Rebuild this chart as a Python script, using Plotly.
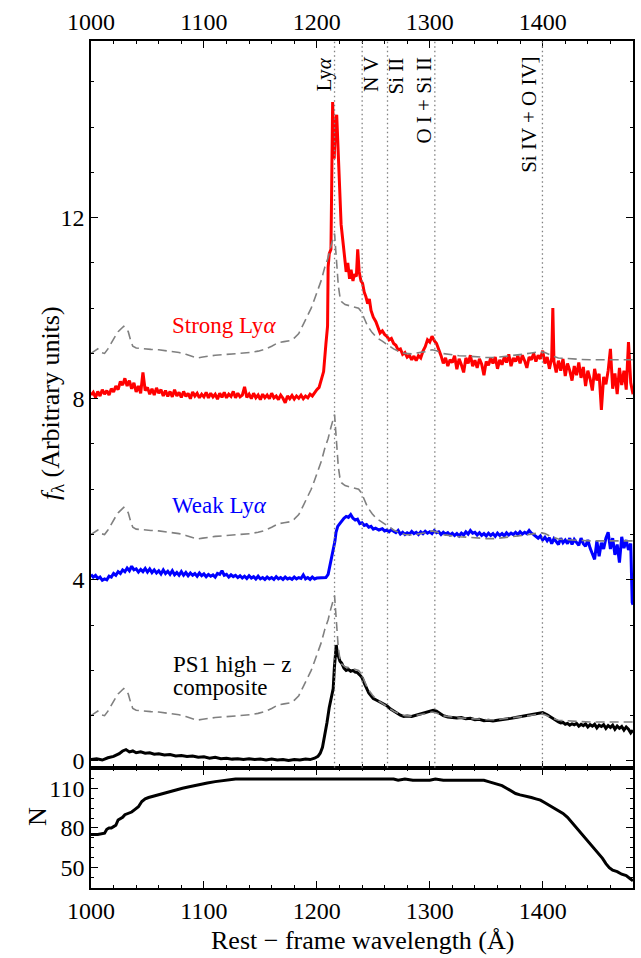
import plotly.graph_objects as go

# ---------------- data ----------------
# Strong Lyman-alpha stack (already offset by +8)
strong_wave = [1000, 1002, 1004, 1006, 1008, 1010, 1012, 1014, 1016, 1018, 1020, 1022, 1024, 1026, 1028, 1030,
               1032, 1034, 1036, 1038, 1040, 1042, 1044, 1046, 1048, 1050, 1052, 1054, 1056, 1058, 1060, 1062,
               1064, 1066, 1068, 1070, 1072, 1074, 1076, 1078, 1080, 1082, 1084, 1086, 1088, 1090, 1092, 1094,
               1096, 1098, 1100, 1102, 1104, 1106, 1108, 1110, 1112, 1114, 1116, 1118, 1120, 1122, 1124, 1126,
               1128, 1130, 1132, 1134, 1136, 1138, 1140, 1142, 1144, 1146, 1148, 1150, 1152, 1154, 1156, 1158,
               1160, 1162, 1164, 1166, 1168, 1170, 1172, 1174, 1176, 1178, 1180, 1182, 1184, 1186, 1188, 1190,
               1192, 1194, 1196, 1198, 1200, 1202, 1204, 1206, 1208, 1209.5, 1210, 1211, 1212.5, 1213.5, 1214,
               1215.4, 1216.5, 1217.6, 1218.6, 1219.9, 1221.5, 1223, 1224.4, 1226, 1227.4, 1229, 1230.3, 1232,
               1233.2, 1235, 1236.2, 1237.5, 1239.1, 1240.5, 1242, 1243.5, 1245, 1246.5, 1248, 1250, 1252.3,
               1254, 1256, 1258, 1260, 1262, 1264, 1266, 1268, 1270, 1272, 1274, 1276, 1278, 1280, 1282, 1284,
               1286, 1288, 1290, 1292, 1294, 1296, 1298, 1300, 1302, 1304, 1306, 1308, 1310, 1312, 1314, 1316,
               1318, 1320, 1322, 1324, 1326, 1328, 1330, 1332, 1334, 1336, 1338, 1340, 1342, 1344, 1346, 1348,
               1350, 1352, 1354, 1356, 1358, 1360, 1362, 1364, 1366, 1368, 1370, 1372, 1374, 1376, 1378, 1380,
               1382, 1384, 1386, 1388, 1390, 1392, 1394, 1396, 1398, 1400, 1402, 1404, 1406, 1408, 1409, 1410,
               1412, 1414, 1416, 1418, 1420, 1422, 1424, 1426, 1428, 1430, 1432, 1434, 1436, 1438, 1440, 1442,
               1444, 1446, 1448, 1450, 1452, 1454, 1456, 1458, 1460, 1462, 1464, 1466, 1468, 1470, 1472, 1474,
               1476, 1478, 1480]
strong_flux = [8.08, 8.14, 8.03, 8.16, 8.06, 8.20, 8.10, 8.18, 8.08, 8.22, 8.15, 8.28, 8.20, 8.38, 8.30, 8.45,
               8.28, 8.40, 8.22, 8.35, 8.15, 8.28, 8.12, 8.58, 8.18, 8.25, 8.10, 8.22, 8.08, 8.24, 8.12, 8.20,
               8.06, 8.18, 8.05, 8.16, 8.04, 8.20, 8.06, 8.14, 8.03, 8.16, 8.05, 8.12, 8.00, 8.15, 8.06, 8.12,
               8.02, 8.10, 8.04, 8.14, 8.02, 8.12, 8.04, 8.10, 7.99, 8.12, 8.03, 8.14, 8.02, 8.10, 8.05, 8.16,
               8.02, 8.12, 8.04, 8.08, 8.26, 8.03, 8.10, 8.00, 8.12, 8.02, 8.08, 7.98, 8.10, 8.02, 8.08, 8.00,
               8.12, 8.02, 8.06, 7.98, 8.08, 8.01, 7.91, 8.06, 8.00, 8.07, 7.99, 8.06, 8.01, 8.08, 8.00, 8.06,
               8.02, 8.10, 8.06, 8.14, 8.20, 8.25, 8.45, 8.60, 9.20, 9.60, 10.9, 11.2, 11.3, 14.0, 14.55,
               13.3, 14.1, 14.27, 13.6, 12.8, 11.85, 11.5, 11.2, 10.8, 11.0, 10.65, 10.85, 10.6,
               10.75, 10.7, 11.3, 10.8, 10.6, 10.55, 10.35, 10.25, 10.1, 10.2, 9.95, 9.8, 9.7,
               9.6, 9.45, 9.5, 9.42, 9.38, 9.30, 9.33, 9.22, 9.18, 9.08, 9.10, 8.98, 9.02, 8.92, 8.96, 8.86,
               8.94, 8.84, 8.95, 8.90, 9.05, 9.15, 9.30, 9.25, 9.38, 9.28, 9.22, 9.10, 8.95, 8.78, 8.90, 8.72,
               8.86, 8.80, 8.95, 8.65, 8.88, 8.75, 8.58, 8.90, 8.78, 8.96, 8.72, 8.85, 8.68, 8.88, 8.76, 8.52,
               8.82, 8.74, 8.90, 8.78, 8.92, 8.66, 8.86, 8.75, 8.92, 8.80, 8.98, 8.72, 8.90, 8.82, 8.95, 8.78,
               8.96, 8.84, 8.68, 8.92, 8.86, 9.00, 8.82, 8.96, 8.88, 9.06, 8.78, 8.92, 8.66, 8.90, 10.0, 8.82,
               8.58, 8.84, 8.62, 8.88, 8.50, 8.78, 8.62, 8.40, 8.72, 8.52, 8.80, 8.46, 8.70, 8.28, 8.62, 8.44,
               8.18, 8.66, 8.40, 8.55, 7.75, 8.48, 8.32, 8.62, 9.10, 8.22, 8.56, 8.10, 8.68, 8.30, 8.62, 8.20,
               9.25, 8.35, 8.10]

# Weak Lyman-alpha stack (already offset by +4)
weak_wave = [1000, 1002, 1004, 1006, 1008, 1010, 1012, 1014, 1016, 1018, 1020, 1022, 1024, 1026, 1028, 1030,
             1032, 1034, 1036, 1038, 1040, 1042, 1044, 1046, 1048, 1050, 1052, 1054, 1056, 1058, 1060, 1062,
             1064, 1066, 1068, 1070, 1072, 1074, 1076, 1078, 1080, 1082, 1084, 1086, 1088, 1090, 1092, 1094,
             1096, 1098, 1100, 1102, 1104, 1106, 1108, 1110, 1112, 1114, 1116, 1118, 1120, 1122, 1124, 1126,
             1128, 1130, 1132, 1134, 1136, 1138, 1140, 1142, 1144, 1146, 1148, 1150, 1152, 1154, 1156, 1158,
             1160, 1162, 1164, 1166, 1168, 1170, 1172, 1174, 1176, 1178, 1180, 1182, 1184, 1186, 1188, 1190,
             1192, 1194, 1196, 1198, 1200, 1204, 1208, 1210, 1211.5, 1213, 1214.5, 1216, 1217, 1218.5, 1220,
             1222, 1224, 1226, 1228, 1230, 1232, 1234, 1236, 1238, 1240, 1242, 1244, 1246, 1248, 1250, 1252,
             1255, 1258, 1260, 1262, 1264, 1266, 1268, 1270, 1272, 1274, 1276, 1278, 1280, 1282, 1284, 1286,
             1288, 1290, 1292, 1294, 1296, 1298, 1300, 1302, 1304, 1306, 1308, 1310, 1312, 1314, 1316, 1318,
             1320, 1322, 1324, 1326, 1328, 1330, 1332, 1334, 1336, 1338, 1340, 1342, 1344, 1346, 1348, 1350,
             1352, 1354, 1356, 1358, 1360, 1362, 1364, 1366, 1368, 1370, 1372, 1374, 1376, 1378, 1380, 1382,
             1384, 1386, 1388, 1390, 1392, 1394, 1396, 1398, 1400, 1402, 1404, 1406, 1408, 1410, 1412, 1414,
             1416, 1418, 1420, 1422, 1424, 1426, 1428, 1430, 1432, 1434, 1436, 1438, 1440, 1442, 1444, 1446,
             1448, 1450, 1452, 1454, 1456, 1458, 1460, 1462, 1464, 1466, 1468, 1470, 1472, 1474, 1476, 1478,
             1479.3, 1480]
weak_flux = [4.12, 4.06, 4.10, 4.03, 4.06, 3.99, 4.02, 4.00, 4.08, 4.06, 4.14, 4.10, 4.18, 4.14, 4.22, 4.18,
             4.26, 4.20, 4.30, 4.22, 4.24, 4.17, 4.23, 4.18, 4.25, 4.17, 4.24, 4.16, 4.22, 4.15, 4.20, 4.13,
             4.22, 4.14, 4.19, 4.12, 4.20, 4.11, 4.16, 4.10, 4.18, 4.10, 4.16, 4.09, 4.15, 4.10, 4.14, 4.08,
             4.15, 4.09, 4.13, 4.07, 4.12, 4.08, 4.11, 4.06, 4.14, 4.12, 4.20, 4.10, 4.12, 4.06, 4.11, 4.07,
             4.10, 4.05, 4.09, 4.04, 4.08, 4.03, 4.09, 4.04, 4.07, 4.02, 4.08, 4.02, 4.05, 4.01, 4.06, 4.02,
             4.05, 4.01, 4.07, 4.02, 4.05, 4.01, 4.06, 4.02, 4.04, 4.01, 4.06, 4.02, 4.05, 4.03, 4.11, 4.02,
             4.05, 4.01, 4.06, 4.02, 4.04, 4.04, 4.05, 4.12, 4.30, 4.45, 4.60, 4.85, 5.05, 5.18, 5.23,
             5.30, 5.36, 5.40, 5.38, 5.44, 5.36, 5.32, 5.34, 5.24, 5.26, 5.20, 5.22, 5.16, 5.18, 5.12, 5.14,
             5.10, 5.13, 5.08, 5.10, 5.06, 5.11, 5.07, 5.04, 5.09, 5.01, 5.05, 5.00, 5.04, 5.01, 5.07, 5.02,
             5.05, 5.00, 5.06, 5.02, 5.07, 5.03, 5.06, 5.02, 5.09, 5.04, 5.06, 5.00, 5.05, 5.01, 5.04, 4.99,
             5.03, 4.98, 5.02, 4.97, 5.03, 4.99, 5.06, 5.01, 5.09, 5.03, 5.05, 4.99, 5.04, 4.98, 5.02, 4.97,
             5.03, 4.98, 5.02, 4.96, 5.03, 4.98, 5.02, 4.97, 5.04, 4.99, 5.03, 5.00, 5.05, 5.00, 5.06, 5.01,
             5.05, 5.02, 5.09, 5.03, 5.00, 4.96, 4.92, 4.97, 4.88, 4.94, 4.86, 4.93, 4.80, 4.91, 4.84, 4.78,
             4.92, 4.82, 4.88, 4.80, 4.92, 4.78, 4.89, 4.82, 4.76, 4.92, 4.80, 4.74, 4.88, 4.70, 4.55, 4.45,
             4.86, 4.52, 4.82, 4.68, 4.92, 5.05, 4.68, 4.92, 4.55, 4.78, 4.38, 4.95, 4.70, 4.88, 4.66, 4.80,
             3.50, 3.45]

# PS1 high-z composite
comp_wave = [1000, 1005, 1010, 1015, 1020, 1025, 1028, 1031, 1034, 1037, 1040, 1044, 1048, 1052, 1056, 1060,
             1065, 1070, 1075, 1080, 1085, 1090, 1095, 1100, 1105, 1110, 1115, 1120, 1125, 1130, 1135, 1140,
             1145, 1150, 1155, 1160, 1165, 1170, 1175, 1180, 1185, 1190, 1194, 1198, 1201, 1203, 1205, 1207,
             1209, 1211, 1213, 1214.5, 1215.5, 1216.5, 1217.2, 1218, 1219, 1220.5, 1222, 1224, 1226, 1228,
             1230, 1232, 1234, 1236, 1238, 1240, 1242, 1244, 1246, 1248, 1250, 1253, 1256, 1259, 1262, 1265,
             1268, 1271, 1274, 1277, 1280, 1284, 1288, 1292, 1296, 1300, 1303, 1306, 1309, 1312, 1316, 1320,
             1324, 1328, 1332, 1336, 1340, 1344, 1348, 1352, 1356, 1360, 1364, 1368, 1372, 1376, 1380, 1384,
             1388, 1392, 1396, 1400, 1404, 1408, 1410, 1412, 1414, 1416, 1418, 1420, 1422, 1424, 1426, 1428,
             1430, 1432, 1434, 1436, 1438, 1440, 1442, 1444, 1446, 1448, 1450, 1452, 1454, 1456, 1458, 1460,
             1462, 1464, 1466, 1468, 1470, 1472, 1474, 1476, 1478, 1480]
comp_flux = [0.03, 0.05, 0.02, 0.07, 0.10, 0.16, 0.22, 0.25, 0.20, 0.22, 0.18, 0.20, 0.17, 0.18, 0.15, 0.16,
             0.13, 0.14, 0.11, 0.12, 0.10, 0.11, 0.08, 0.09, 0.06, 0.08, 0.05, 0.06, 0.04, 0.05, 0.03, 0.05,
             0.03, 0.04, 0.02, 0.04, 0.02, 0.03, 0.01, 0.03, 0.02, 0.04, 0.03, 0.06, 0.10, 0.17, 0.30, 0.55,
             0.85, 1.18, 1.45, 1.60, 2.05, 2.45, 2.56, 2.40, 2.30, 2.20, 2.16, 2.05, 2.00, 2.02,
             1.98, 2.00, 1.96, 1.95, 1.90, 1.84, 1.72, 1.60, 1.50, 1.44, 1.38, 1.34, 1.30, 1.26, 1.22, 1.15,
             1.10, 1.05, 1.01, 0.98, 0.99, 0.98, 1.01, 1.03, 1.06, 1.09, 1.12, 1.10, 1.05, 1.00, 0.97, 0.96,
             0.95, 0.96, 0.93, 0.94, 0.91, 0.92, 0.89, 0.90, 0.88, 0.90, 0.91, 0.93, 0.94, 0.96, 0.98, 1.00,
             1.02, 1.03, 1.05, 1.07, 1.02, 0.95, 0.92, 0.88, 0.86, 0.84, 0.85, 0.81, 0.83, 0.79, 0.82, 0.80,
             0.83, 0.77, 0.81, 0.78, 0.82, 0.75, 0.80, 0.77, 0.81, 0.73, 0.79, 0.76, 0.80, 0.72, 0.78, 0.74,
             0.79, 0.70, 0.77, 0.72, 0.76, 0.68, 0.75, 0.70, 0.62, 0.68]

# Low-z reference template (dashed), shown at offsets 0, 4 and 8
ref_wave = [1000, 1003, 1006, 1009, 1012, 1015, 1018, 1021, 1024, 1027, 1029, 1031, 1033, 1035, 1037, 1040,
            1046, 1053, 1060, 1066, 1072, 1078, 1084, 1089, 1094, 1099, 1104, 1110, 1116, 1122, 1128, 1134,
            1141, 1148, 1154, 1160, 1166, 1171, 1176, 1180, 1184, 1188, 1192, 1195, 1198, 1201, 1204, 1207,
            1210, 1212.5, 1214.5, 1215.7, 1216.7, 1218, 1219, 1220.4, 1222, 1225, 1228, 1231, 1234, 1237,
            1239.5, 1242.5, 1245, 1249, 1253, 1258, 1263, 1268, 1273, 1278, 1284, 1290, 1296, 1302, 1306,
            1311, 1318, 1326, 1334, 1342, 1350, 1358, 1366, 1374, 1382, 1390, 1398, 1402, 1408, 1414, 1422,
            1432, 1442, 1452, 1462, 1472, 1480]
ref_flux = [1.00, 1.05, 1.10, 1.02, 1.00, 1.10, 1.24, 1.36, 1.48, 1.56, 1.60, 1.56, 1.48, 1.30, 1.16, 1.12,
            1.10, 1.09, 1.08, 1.06, 1.05, 1.02, 0.98, 0.94, 0.90, 0.92, 0.94, 0.96, 0.97, 0.98, 0.99, 1.00,
            1.02, 1.05, 1.09, 1.16, 1.24, 1.26, 1.28, 1.34, 1.44, 1.64, 1.84, 2.00, 2.20, 2.40, 2.62, 2.90,
            3.12, 3.37, 3.55, 3.65, 3.30, 2.78, 2.50, 2.26, 2.14, 2.08, 2.06, 2.05, 2.03, 2.00,
            1.92, 1.73, 1.60, 1.46, 1.35, 1.27, 1.18, 1.10, 1.04, 1.00, 0.99, 1.01, 1.04, 1.08, 1.06,
            1.00, 0.97, 0.95, 0.94, 0.92, 0.91, 0.91, 0.93, 0.95, 0.98, 1.01, 1.04, 1.02, 0.95, 0.90, 0.88,
            0.87, 0.86, 0.86, 0.85, 0.85, 0.86]
ref_offsets = [0, 4, 8]

# Number of objects contributing at each wavelength
n_wave = [1000, 1006, 1012, 1014, 1016, 1018, 1020, 1022, 1024, 1026, 1028, 1030, 1033, 1036, 1039, 1042,
          1045, 1048, 1051, 1055, 1060, 1064, 1068, 1073, 1077, 1081, 1086, 1091, 1097, 1103, 1110, 1118,
          1128, 1160, 1200, 1240, 1268, 1272, 1278, 1285, 1290, 1300, 1305, 1312, 1325, 1340, 1348, 1352,
          1356, 1360, 1364, 1368, 1372, 1376, 1380, 1386, 1390, 1394, 1398, 1402, 1406, 1410, 1414, 1418,
          1422, 1426, 1430, 1434, 1438, 1442, 1446, 1450, 1453, 1456, 1459, 1462, 1466, 1470, 1474, 1477,
          1480]
n_count = [75, 75, 76, 79, 80, 80, 81, 82, 86, 87, 88, 90, 91, 92, 94, 96,
           100, 102, 103, 104, 105, 106, 107, 108, 109, 110, 111, 112, 113, 114, 115, 116,
           117, 117, 117, 117, 117, 116, 117, 116, 116, 116, 117, 116, 116, 116, 116, 115,
           114, 113, 112, 110, 108, 106, 105, 104, 103, 102, 101, 99, 97, 95, 93, 91,
           88, 84, 80, 76, 72, 68, 64, 60, 57, 53, 50, 48, 47, 45, 44, 42,
           40]

# Emission lines marked with dotted verticals
line_names = ["Ly<i>α</i>", "N V", "Si II", "O I + Si II", "Si IV + O IV]"]
line_waves = [1215.67, 1240.14, 1262.59, 1304.5, 1399.8]

x_ticks = [1000, 1100, 1200, 1300, 1400]
flux_ticks = [0, 4, 8, 12]
n_ticks = [50, 80, 110]

# ---------------- styling ----------------
FONT = "Liberation Serif"
GREY = "#808080"
label_shift = [-9, 8, 7.5, -9.5, -12]   # label centre relative to each line, in Å

fig = go.Figure()

# bottom panel: N
fig.add_trace(go.Scatter(x=n_wave, y=n_count, mode="lines", line=dict(color="black", width=3),
                         xaxis="x2", yaxis="y2", hoverinfo="skip"))

# top panel spectra
fig.add_trace(go.Scatter(x=comp_wave, y=comp_flux, mode="lines", line=dict(color="black", width=3),
                         xaxis="x", yaxis="y"))
fig.add_trace(go.Scatter(x=weak_wave, y=weak_flux, mode="lines", line=dict(color="#0000ff", width=3),
                         xaxis="x", yaxis="y"))
fig.add_trace(go.Scatter(x=strong_wave, y=strong_flux, mode="lines", line=dict(color="#ff0000", width=3),
                         xaxis="x", yaxis="y"))
for off in ref_offsets:
    fig.add_trace(go.Scatter(x=ref_wave, y=[v + off for v in ref_flux], mode="lines",
                             line=dict(color=GREY, width=1.6, dash="9px,5px"), xaxis="x", yaxis="y"))

# dotted markers for emission lines
for w in line_waves:
    fig.add_shape(type="line", x0=w, x1=w, xref="x", y0=0, y1=1, yref="y domain",
                  line=dict(color=GREY, width=1.3, dash="1.5px,3px"), layer="above")

# line labels, rotated, hanging from the top of the panel
for name, w, dx in zip(line_names, line_waves, label_shift):
    fig.add_annotation(text=name, x=w + dx, xref="x", y=0.9835, yref="paper", textangle=-90,
                       xanchor="center", yanchor="top", showarrow=False,
                       font=dict(family=FONT, size=21, color="black"))

# series captions
fig.add_annotation(text="Strong Ly<i>α</i>", x=1117.6, y=9.61, xref="x", yref="y", showarrow=False,
                   font=dict(family=FONT, size=23, color="#ff0000"))
fig.add_annotation(text="Weak Ly<i>α</i>", x=1114, y=5.64, xref="x", yref="y", showarrow=False,
                   font=dict(family=FONT, size=23, color="#0000ff"))
fig.add_annotation(text="PS1 high − z", x=1070.6, y=2.13, xref="x", yref="y", xanchor="left",
                   showarrow=False, font=dict(family=FONT, size=23, color="black"))
fig.add_annotation(text="composite", x=1070.6, y=1.62, xref="x", yref="y", xanchor="left",
                   showarrow=False, font=dict(family=FONT, size=23, color="black"))

# axis titles
fig.add_annotation(text="<i>f</i><sub>λ</sub> (Arbitrary units)", x=-0.106, y=0.572, xref="paper", yref="paper",
                   textangle=-90, showarrow=False, font=dict(family=FONT, size=26, color="black"))
fig.add_annotation(text="N", x=-0.129, y=0.0708, xref="paper", yref="paper", textangle=-90,
                   showarrow=False, font=dict(family=FONT, size=26, color="black"))
fig.add_annotation(text="Rest − frame wavelength (Å)", x=0.5, y=-0.0614, xref="paper", yref="paper",
                   yanchor="middle", showarrow=False, font=dict(family=FONT, size=26, color="black"))

axis_common = dict(showline=True, linecolor="black", linewidth=1.6, mirror="allticks", ticks="inside",
                   ticklen=7, tickwidth=1.3, tickcolor="black", showgrid=False, zeroline=False,
                   tickfont=dict(family=FONT, size=24, color="black"))

fig.update_layout(
    width=641, height=958, margin=dict(l=91, r=6, t=41, b=70),
    paper_bgcolor="white", plot_bgcolor="white", showlegend=False,
    xaxis=dict(range=[1000, 1480], domain=[0, 1], anchor="y", side="top", tickvals=x_ticks,
               minor=dict(dtick=20, tick0=1000, ticks="inside", ticklen=3.5, tickcolor="black", tickwidth=1),
               **axis_common),
    yaxis=dict(range=[-0.15, 15.9], domain=[0.142, 1], anchor="x", tickvals=flux_ticks,
               minor=dict(dtick=1, tick0=0, ticks="inside", ticklen=3.5, tickcolor="black", tickwidth=1),
               **axis_common),
    xaxis2=dict(range=[1000, 1480], domain=[0, 1], anchor="y2", side="bottom", tickvals=x_ticks,
                minor=dict(dtick=20, tick0=1000, ticks="inside", ticklen=3.5, tickcolor="black", tickwidth=1),
                **axis_common),
    yaxis2=dict(range=[34.6, 125.5], domain=[0, 0.142], anchor="x2", tickvals=n_ticks,
                minor=dict(dtick=7.5, tick0=50, ticks="inside", ticklen=3.5, tickcolor="black", tickwidth=1),
                **axis_common),
)

fig.write_html("out.html")
